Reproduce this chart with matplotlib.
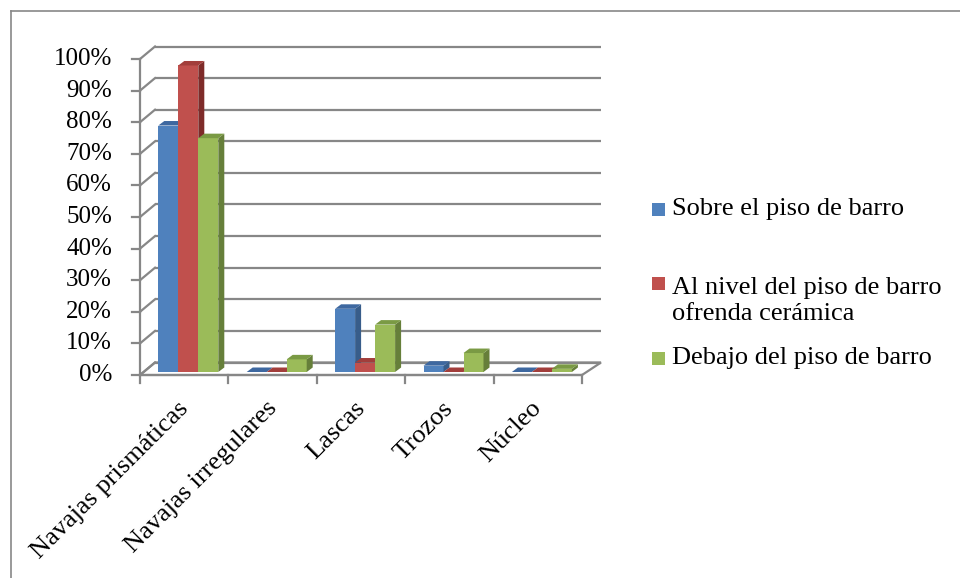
import matplotlib.pyplot as plt
from matplotlib.patches import Polygon
from matplotlib.lines import Line2D

plt.rcParams['font.family'] = ['Liberation Serif', 'DejaVu Serif']

categories = ['Navajas prismáticas', 'Navajas irregulares', 'Lascas', 'Trozos', 'Núcleo']
series_names = ['Sobre el piso de barro',
                'Al nivel del piso de barro\nofrenda cerámica',
                'Debajo del piso de barro']
sobre = [78, 0, 20, 2, 0]
al_nivel = [97, 0, 3, 0, 0]
debajo = [74, 4, 15, 6, 1]
y_ticks = [0, 10, 20, 30, 40, 50, 60, 70, 80, 90, 100]

front = ['#4F81BD', '#C0504D', '#9BBB59']
side = ['#385D8A', '#7E2B29', '#667F3A']
top = ['#3E68A0', '#A23E3B', '#7A9A44']
grid_c = '#878787'

W, H = 960, 578
fig = plt.figure(figsize=(W / 100, H / 100), dpi=100)

# pixel layout of the plot box: category 0 starts at x0, 0% at y0
x0, cat_px = 140, 88.4
y0, pct_px = 375, 3.16
al, ar, at, ab = 100, 620, 40, 420
ax = fig.add_axes([al / W, 1 - ab / H, (ar - al) / W, (ab - at) / H])
ax.set_xlim((al - x0) / cat_px, (ar - x0) / cat_px)
ax.set_ylim((y0 - ab) / pct_px, (y0 - at) / pct_px)
ax.axis('off')

# depth of the back wall and of each bar
dx_wall, dy_wall = 15 / cat_px, 12.5 / pct_px
x_wall_r = (601 - x0) / cat_px
ddx, ddy = 6 / cat_px, 4.5 / pct_px
n = len(categories)

# floor
ax.add_patch(Polygon([(0, 0), (n, 0), (x_wall_r, dy_wall), (dx_wall, dy_wall)],
                     closed=True, facecolor='white', edgecolor=grid_c, lw=1.6, zorder=1))
# back wall gridlines and left wall diagonals
for t in y_ticks:
    ax.plot([dx_wall, x_wall_r], [t + dy_wall] * 2, color=grid_c, lw=1.6, zorder=1,
            solid_capstyle='butt')
    ax.plot([0, dx_wall], [t, t + dy_wall], color=grid_c, lw=1.6, zorder=1)
    ax.plot([-8 / cat_px, 0], [t, t], color=grid_c, lw=1.6, zorder=1)
    ax.text(-28 / cat_px, t, f'{t}%', ha='right', va='center', fontsize=18)
ax.plot([0, 0], [0, 100], color=grid_c, lw=1.6, zorder=1)
ax.plot([0, n], [0, 0], color=grid_c, lw=1.6, zorder=1)
for i in range(n + 1):
    ax.plot([i, i], [0, -8 / pct_px], color=grid_c, lw=1.6, zorder=1)

# bars: front face via ax.bar, then side and top faces
bar_w = 20 / cat_px
offset = 18.3 / cat_px
base = 3 / pct_px
z = 3
for i in range(n):
    for s, vals in enumerate([sobre, al_nivel, debajo]):
        xl = i + offset + s * bar_w
        xr = xl + bar_w
        v = vals[i]
        if v > 0:
            ax.bar(xl, v, bar_w, bottom=base, align='edge', color=front[s],
                   linewidth=0, zorder=z)
        ax.add_patch(Polygon([(xr, base), (xr + ddx, base + ddy),
                              (xr + ddx, base + v + ddy), (xr, base + v)],
                             closed=True, facecolor=side[s], lw=0, zorder=z))
        ax.add_patch(Polygon([(xl, base + v), (xl + ddx, base + v + ddy),
                              (xr + ddx, base + v + ddy), (xr, base + v)],
                             closed=True, facecolor=top[s], lw=0, zorder=z))
        z += 1

for i, name in enumerate(categories):
    ax.text(i + 0.42, -7.0, name, rotation=45, rotation_mode='anchor',
            ha='right', va='top', fontsize=19)

# legend
legend_y = [209, 301, 358]
for s, name in enumerate(series_names):
    sq_y = [209, 283, 358][s]
    fig.patches.append(plt.Rectangle((652 / W, 1 - (sq_y + 6.5) / H), 13 / W, 13 / H,
                                     transform=fig.transFigure, facecolor=front[s],
                                     lw=0))
    fig.text(672 / W, 1 - legend_y[s] / H, name, ha='left', va='center',
             fontsize=19, linespacing=1.2)

# outer chart border
fig.add_artist(Line2D([10.5 / W, 10.5 / W], [0, 1 - 10.5 / H], color=grid_c, lw=1.2,
                      transform=fig.transFigure))
fig.add_artist(Line2D([10.5 / W, 1], [1 - 10.5 / H, 1 - 10.5 / H], color=grid_c, lw=1.2,
                      transform=fig.transFigure))

fig.savefig('out.png', dpi=100)
